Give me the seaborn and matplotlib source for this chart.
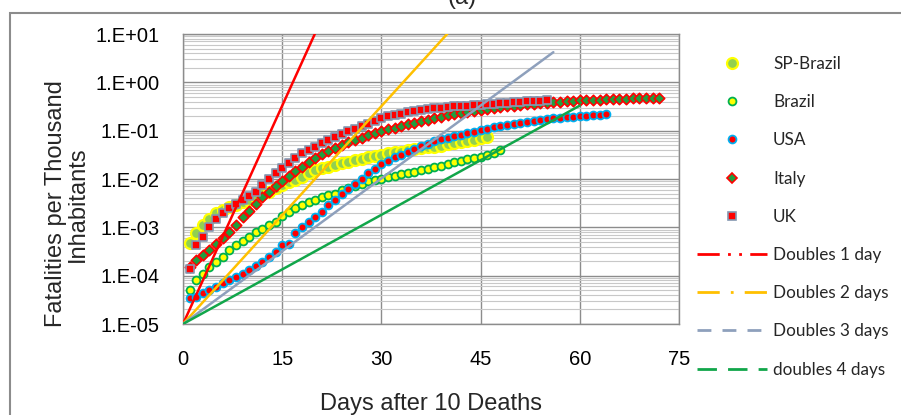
import matplotlib
matplotlib.use("Agg")
import matplotlib.pyplot as plt
import seaborn as sns
import numpy as np
import pandas as pd
from matplotlib.lines import Line2D
from matplotlib.patches import Rectangle
from matplotlib.ticker import LogLocator, FuncFormatter, NullFormatter

# ---------------- data (fatalities per thousand inhabitants, day 1..n) ----------------
sp_brazil = [4.7e-4, 7.6e-4, 1.1e-3, 1.5e-3, 2.0e-3, 2.3e-3, 2.6e-3, 2.9e-3, 3.3e-3, 3.7e-3,
             4.2e-3, 4.8e-3, 5.5e-3, 6.5e-3, 7.5e-3, 8.5e-3, 9.7e-3, 0.011, 0.013, 0.015,
             0.0165, 0.018, 0.0195, 0.021, 0.023, 0.025, 0.0265, 0.028, 0.030, 0.032,
             0.034, 0.0355, 0.037, 0.039, 0.041, 0.043, 0.045, 0.047, 0.049, 0.052,
             0.055, 0.058, 0.061, 0.065, 0.069, 0.074]

brazil = [5.0e-5, 8.3e-5, 1.1e-4, 1.5e-4, 1.9e-4, 2.4e-4, 3.4e-4, 4.3e-4, 5.2e-4, 6.4e-4,
          7.9e-4, 9.1e-4, 1.1e-3, 1.3e-3, 1.7e-3, 2.1e-3, 2.5e-3, 2.9e-3, 3.3e-3, 3.7e-3,
          4.2e-3, 4.6e-3, 5.0e-3, 5.8e-3, 6.5e-3, 7.1e-3, 8.0e-3, 9.0e-3, 9.6e-3, 0.0102,
          0.011, 0.0118, 0.0125, 0.0133, 0.0142, 0.015, 0.0162, 0.0175, 0.019, 0.0205,
          0.022, 0.024, 0.0255, 0.027, 0.029, 0.031, 0.035, 0.040]

usa = [3.4e-5, 3.7e-5, 4.3e-5, 5.0e-5, 5.9e-5, 6.9e-5, 8.1e-5, 9.6e-5, 1.1e-4, 1.3e-4,
       1.6e-4, 1.9e-4, 2.4e-4, 3.1e-4, 4.3e-4, 4.6e-4, 7.6e-4, 1.0e-3, 1.3e-3, 1.6e-3,
       2.1e-3, 2.9e-3, 3.7e-3, 4.8e-3, 6.2e-3, 8.0e-3, 0.010, 0.013, 0.016, 0.020,
       0.024, 0.028, 0.032, 0.037, 0.042, 0.048, 0.054, 0.060, 0.066, 0.071,
       0.076, 0.082, 0.088, 0.095, 0.102, 0.110, 0.118, 0.125, 0.132, 0.138,
       0.145, 0.152, 0.160, 0.168, 0.175, 0.180, 0.185, 0.190, 0.195, 0.200,
       0.205, 0.210, 0.215, 0.220]

italy = [1.5e-4, 2.1e-4, 2.7e-4, 3.4e-4, 4.6e-4, 5.9e-4, 8.1e-4, 1.1e-3, 1.6e-3, 2.2e-3,
         3.0e-3, 4.2e-3, 5.5e-3, 7.0e-3, 9.0e-3, 0.0115, 0.0145, 0.018, 0.022, 0.027,
         0.033, 0.038, 0.044, 0.050, 0.057, 0.064, 0.072, 0.080, 0.089, 0.098,
         0.106, 0.115, 0.125, 0.135, 0.147, 0.158, 0.170, 0.183, 0.196, 0.210,
         0.222, 0.235, 0.248, 0.260, 0.272, 0.285, 0.297, 0.310, 0.320, 0.330,
         0.340, 0.350, 0.360, 0.370, 0.380, 0.390, 0.400, 0.410, 0.420, 0.425,
         0.430, 0.435, 0.440, 0.445, 0.450, 0.455, 0.460, 0.465, 0.470, 0.475,
         0.480, 0.485]

uk = [1.4e-4, 4.3e-4, 6.4e-4, 1.0e-3, 1.5e-3, 2.0e-3, 2.5e-3, 3.0e-3, 3.7e-3, 4.5e-3,
      5.5e-3, 7.5e-3, 9.8e-3, 0.013, 0.017, 0.021, 0.027, 0.034, 0.040, 0.047,
      0.055, 0.065, 0.075, 0.085, 0.100, 0.110, 0.125, 0.140, 0.160, 0.180,
      0.200, 0.210, 0.225, 0.240, 0.255, 0.270, 0.280, 0.290, 0.300, 0.310,
      0.320, 0.325, 0.330, 0.335, 0.340, 0.350, 0.360, 0.370, 0.380, 0.390,
      0.400, 0.410, 0.415, 0.420, 0.430]

# doubling reference lines: start and end points (day, value)
dbl1_x = [0, 20]
dbl1_y = [1e-5, 10.5]
dbl2_x = [0, 40]
dbl2_y = [1e-5, 10.2]
dbl3_x = [0, 56]
dbl3_y = [1e-5, 4.2]
dbl4_x = [0, 60]
dbl4_y = [1e-5, 0.33]

x_ticks = [0, 15, 30, 45, 60, 75]

# ---------------- style ----------------
sns.set_theme(style="white")
plt.rcParams['font.family'] = ['Liberation Sans', 'DejaVu Sans']

W, H = 901, 415
fig = plt.figure(figsize=(W / 100, H / 100), dpi=100)
ax = fig.add_axes([183 / W, 1 - 324 / H, (679 - 183) / W, (324 - 34) / H])
ax.set_yscale('log')
ax.set_xlim(0, 75)
ax.set_ylim(1e-5, 10)

series = [
    ("SP-Brazil", sp_brazil, 'o', 62, '#92D050', '#FFFF00', 1.6),
    ("Brazil", brazil, 'o', 32, '#FFFF00', '#00B050', 1.3),
    ("USA", usa, 'o', 32, '#FF0000', '#00B0F0', 1.3),
    ("Italy", italy, 'D', 28, '#1F9E3F', '#FF0000', 1.2),
    ("UK", uk, 's', 30, '#FF0000', '#8497B0', 1.2),
]
for i, (name, vals, mk, s, fc, ec, lw) in enumerate(series):
    df = pd.DataFrame({"day": np.arange(1, len(vals) + 1), "val": vals})
    sns.scatterplot(data=df, x="day", y="val", ax=ax, marker=mk, s=s, color=fc,
                    edgecolor=ec, linewidth=lw, zorder=3 + i, legend=False)

lines = [
    ("Doubles 1 day", dbl1_x, dbl1_y, '#FF0000', (8, 3, 1, 3, 1, 3)),
    ("Doubles 2 days", dbl2_x, dbl2_y, '#FFC000', (8, 4, 1, 4)),
    ("Doubles 3 days", dbl3_x, dbl3_y, '#8EA0BC', (5, 4)),
    ("doubles 4 days", dbl4_x, dbl4_y, '#11A64A', (7, 4)),
]
for name, xs, ys, col, _ in lines:
    sns.lineplot(x=xs, y=ys, ax=ax, color=col, linewidth=1.8, zorder=10, sort=False)

# grid / ticks
ax.set_xticks(x_ticks)
ax.yaxis.set_major_locator(LogLocator(base=10, numticks=10))
ax.yaxis.set_minor_locator(LogLocator(base=10, subs=np.arange(2, 10), numticks=20))
ax.yaxis.set_minor_formatter(NullFormatter())
ax.yaxis.set_major_formatter(FuncFormatter(lambda v, p: "1.E%+03d" % int(round(np.log10(v)))))
ax.grid(which='major', color='#8C8C8C', linewidth=1.0)
ax.grid(which='minor', axis='y', color='#C8C8C8', linewidth=0.8)
ax.tick_params(axis='both', which='both', length=0, labelsize=14.5, colors='black')
ax.tick_params(axis='x', pad=19)
ax.tick_params(axis='y', pad=17)
for sp in ax.spines.values():
    sp.set_color('#8C8C8C')
    sp.set_linewidth(1.0)
ax.set_xlabel("")
ax.set_ylabel("")

fig.text(431 / W, 1 - 410 / H, "Days after 10 Deaths", ha='center', va='baseline', fontsize=17)
fig.text(67 / W, 1 - 204 / H, "Fatalities per Thousand\nInhabitants", rotation=90,
         ha='center', va='center', fontsize=17, multialignment='center', linespacing=1.0)
fig.text(462 / W, 1 - 4 / H, "(a)", ha='center', va='baseline', fontsize=17)

# outer chart frame
fig.patches.append(Rectangle((10 / W, -0.5), 2.0, 1 - 13 / H + 0.5, transform=fig.transFigure,
                             fill=False, edgecolor='#8C8C8C', linewidth=1.5))

# legend
handles = []
for name, vals, mk, s, fc, ec, lw in series:
    handles.append(Line2D([], [], linestyle='none', marker=mk, markersize=np.sqrt(s),
                          markerfacecolor=fc, markeredgecolor=ec, markeredgewidth=lw, label=name))
for name, xs, ys, col, dash in lines:
    handles.append(Line2D([], [], color=col, linewidth=2.0, dashes=dash, label=name))
fig.legend(handles=handles, loc='upper left', bbox_to_anchor=(697 / W, 1 - 56 / H),
           frameon=False, prop={'family': ['Lato', 'DejaVu Sans'], 'size': 12.3},
           handlelength=4.1, handletextpad=0.35, labelspacing=1.30, borderpad=0,
           borderaxespad=0)

fig.savefig("out.png", dpi=100)
